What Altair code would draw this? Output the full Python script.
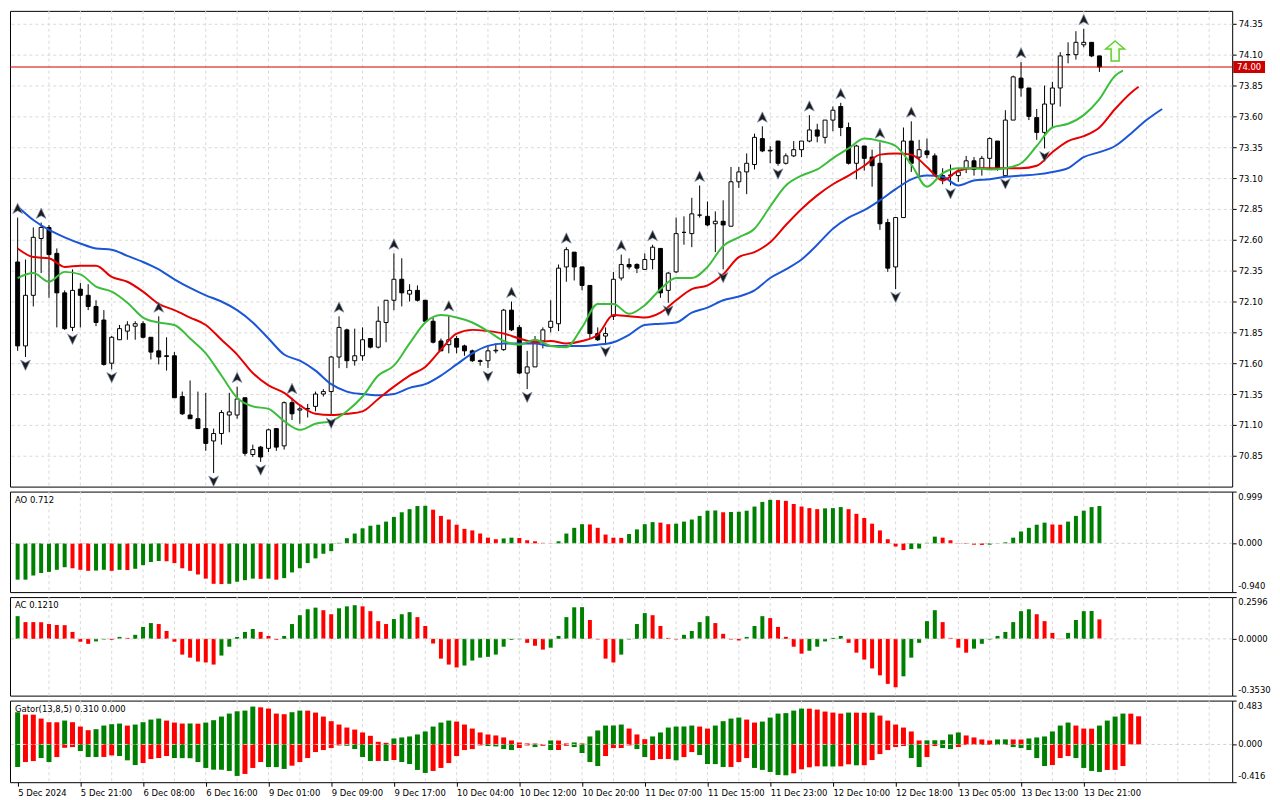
import altair as alt
import pandas as pd

W = 1228
XDOM = [-0.34, 154.3]
FONT = "DejaVu Sans"
FS = 8.5
GREEN = "#008000"
RED = "#ff0000"
GRID = "#d9d9d9"

# ---------------- price data (bar index k = 0..138) ----------------
opens = [72.42, 71.74, 72.15, 72.61, 72.70, 72.49, 72.17, 71.89, 72.20, 72.15,
         72.06, 71.95, 71.60, 71.79, 71.86, 71.90, 71.92, 71.81, 71.70, 71.66,
         71.66, 71.33, 71.18, 71.15, 71.07, 70.97, 71.03, 71.18, 71.18, 71.32,
         70.86, 70.92, 70.91, 71.07, 70.93, 71.28, 71.22, 71.23, 71.25, 71.35,
         71.37, 71.65, 71.87, 71.62, 71.66, 71.80, 71.73, 71.93, 72.11, 72.28,
         72.16, 72.19, 72.11, 71.94, 71.78, 71.75, 71.80, 71.74, 71.70, 71.62,
         71.62, 71.70, 71.71, 72.03, 71.89, 71.52, 71.57, 71.78, 71.89, 71.92,
         72.38, 72.50, 72.38, 72.23, 71.84, 71.82, 71.98, 72.29, 72.40, 72.40,
         72.36, 72.44, 72.53, 72.19, 72.34, 72.66, 72.65, 72.80, 72.79, 72.73,
         72.75, 72.71, 73.07, 73.15, 73.21, 73.42, 73.32, 73.40, 73.22, 73.28,
         73.33, 73.40, 73.49, 73.43, 73.57, 73.68, 73.51, 73.22, 73.36, 73.27,
         73.22, 72.74, 72.38, 72.78, 73.40, 73.27, 73.32, 73.28, 73.12, 73.12,
         73.12, 73.18, 73.24, 73.18, 73.26, 73.40, 73.12, 73.57, 73.91, 73.83,
         73.59, 73.47, 73.70, 73.83, 74.10, 74.10, 74.18, 74.20, 74.09]
highs = [72.78, 72.44, 72.70, 72.74, 72.72, 72.53, 72.19, 72.36, 72.25, 72.24,
         72.11, 72.03, 71.82, 71.91, 71.94, 71.94, 71.94, 71.81, 71.98, 71.81,
         71.69, 71.37, 71.46, 71.37, 71.36, 71.07, 71.22, 71.36, 71.41, 71.32,
         70.94, 70.93, 71.07, 71.07, 71.29, 71.32, 71.25, 71.27, 71.37, 71.39,
         71.66, 71.98, 71.88, 71.88, 71.89, 71.80, 72.06, 72.11, 72.49, 72.45,
         72.24, 72.23, 72.11, 71.97, 71.80, 71.99, 71.82, 71.75, 71.71, 71.63,
         71.74, 71.76, 72.04, 72.10, 71.91, 71.70, 71.82, 71.89, 72.11, 72.40,
         72.54, 72.50, 72.38, 72.23, 71.89, 71.89, 72.34, 72.48, 72.45, 72.41,
         72.49, 72.56, 72.53, 72.34, 72.78, 72.79, 72.94, 73.04, 72.91, 72.83,
         72.92, 73.19, 73.19, 73.30, 73.46, 73.52, 73.36, 73.40, 73.30, 73.40,
         73.40, 73.61, 73.54, 73.57, 73.68, 73.71, 73.55, 73.37, 73.36, 73.33,
         73.39, 72.77, 72.78, 73.51, 73.56, 73.41, 73.42, 73.30, 73.18, 73.21,
         73.18, 73.28, 73.27, 73.28, 73.43, 73.40, 73.65, 73.93, 74.04, 73.83,
         73.66, 73.85, 73.88, 74.12, 74.20, 74.29, 74.31, 74.20, 74.09]
lows = [71.70, 71.65, 72.06, 72.33, 72.13, 71.89, 71.87, 71.86, 71.89, 72.03,
        71.90, 71.58, 71.55, 71.79, 71.79, 71.79, 71.80, 71.63, 71.59, 71.54,
        71.32, 71.18, 71.15, 71.07, 70.89, 70.71, 70.94, 71.04, 71.15, 70.85,
        70.84, 70.80, 70.88, 70.89, 70.90, 71.14, 71.11, 71.16, 71.21, 71.33,
        71.18, 71.56, 71.56, 71.58, 71.62, 71.72, 71.72, 71.77, 72.03, 72.06,
        72.10, 72.10, 71.94, 71.76, 71.70, 71.68, 71.68, 71.66, 71.61, 71.58,
        71.56, 71.68, 71.70, 71.86, 71.51, 71.39, 71.57, 71.72, 71.85, 71.86,
        72.26, 72.27, 72.19, 71.80, 71.78, 71.76, 71.95, 72.27, 72.36, 72.33,
        72.36, 72.36, 72.13, 72.09, 72.33, 72.56, 72.54, 72.78, 72.71, 72.50,
        72.36, 72.71, 73.02, 72.97, 73.17, 73.31, 73.22, 73.20, 73.21, 73.27,
        73.27, 73.39, 73.39, 73.38, 73.48, 73.44, 73.21, 73.09, 73.16, 73.03,
        72.68, 72.34, 72.20, 72.78, 73.15, 73.12, 73.26, 73.12, 73.05, 73.04,
        73.07, 73.14, 73.12, 73.12, 73.18, 73.16, 73.12, 73.57, 73.76, 73.57,
        73.41, 73.34, 73.51, 73.68, 74.03, 74.06, 74.16, 74.08, 73.96]
closes = [71.74, 72.15, 72.62, 72.70, 72.48, 72.17, 71.88, 72.19, 72.15, 72.06,
          71.93, 71.59, 71.81, 71.88, 71.91, 71.92, 71.81, 71.69, 71.65, 71.655,
          71.32, 71.19, 71.15, 71.07, 70.95, 71.03, 71.20, 71.205, 71.31, 70.87,
          70.90, 70.84, 71.06, 70.92, 71.28, 71.19, 71.23, 71.232, 71.35, 71.37,
          71.65, 71.89, 71.62, 71.66, 71.79, 71.73, 71.94, 72.11, 72.28, 72.17,
          72.19, 72.11, 71.94, 71.77, 71.70, 71.79, 71.73, 71.70, 71.62, 71.615,
          71.70, 71.705, 72.03, 71.87, 71.52, 71.57, 71.78, 71.87, 71.94, 72.37,
          72.52, 72.38, 72.23, 71.84, 71.79, 71.84, 72.28, 72.40, 72.38, 72.37,
          72.44, 72.54, 72.17, 72.33, 72.65, 72.66, 72.81, 72.80, 72.72, 72.75,
          72.72, 73.07, 73.15, 73.22, 73.43, 73.32, 73.325, 73.22, 73.28, 73.33,
          73.40, 73.49, 73.44, 73.57, 73.65, 73.51, 73.22, 73.36, 73.26, 73.20,
          72.73, 72.37, 72.78, 73.40, 73.22, 73.33, 73.29, 73.13, 73.09, 73.125,
          73.15, 73.24, 73.17, 73.26, 73.42, 73.18, 73.57, 73.92, 73.83, 73.60,
          73.47, 73.70, 73.83, 74.09, 74.10, 74.20, 74.20, 74.09, 74.00]

up_fractals = [0, 3, 18, 28, 35, 41, 48, 55, 63, 70, 77, 81, 87, 95, 101, 105, 110, 114, 128, 136]
down_fractals = [1, 7, 12, 25, 31, 40, 60, 65, 75, 83, 90, 97, 112, 119, 126, 131]

# Alligator: jaw sampled at k = 0,2,..,146 ; teeth at 0,2,..,142,143 ; lips at 0,2,..,140,141
jaw = [72.87, 72.76, 72.68, 72.62, 72.57, 72.53, 72.52, 72.47, 72.42, 72.36,
       72.28, 72.21, 72.15, 72.10, 72.03, 71.93, 71.80, 71.67, 71.62, 71.54,
       71.43, 71.37, 71.35, 71.34, 71.35, 71.40, 71.43, 71.50, 71.59, 71.68,
       71.74, 71.76, 71.76, 71.76, 71.74, 71.74, 71.74, 71.75, 71.77, 71.83,
       71.91, 71.92, 71.93, 72.01, 72.05, 72.11, 72.14, 72.19, 72.29, 72.36,
       72.44, 72.56, 72.69, 72.78, 72.84, 72.92, 73.01, 73.09, 73.12, 73.11,
       73.04, 73.08, 73.09, 73.11, 73.12, 73.13, 73.15, 73.18, 73.27, 73.31,
       73.36, 73.46, 73.57, 73.66]
teeth = [72.53, 72.46, 72.45, 72.38, 72.39, 72.39, 72.30, 72.26, 72.18, 72.08,
         72.03, 71.97, 71.91, 71.79, 71.67, 71.52, 71.42, 71.36, 71.26, 71.19,
         71.18, 71.19, 71.21, 71.31, 71.41, 71.50, 71.57, 71.71, 71.84, 71.87,
         71.86, 71.84, 71.80, 71.77, 71.78, 71.76, 71.78, 71.83, 71.99, 71.98,
         71.97, 72.01, 72.11, 72.20, 72.23, 72.32, 72.46, 72.50, 72.58, 72.72,
         72.85, 72.96, 73.05, 73.12, 73.20, 73.29, 73.30, 73.29, 73.19, 73.08,
         73.16, 73.18, 73.18, 73.18, 73.18, 73.20, 73.31, 73.40, 73.44, 73.51,
         73.66, 73.79, 73.84]
lips = [72.29, 72.33, 72.26, 72.34, 72.32, 72.22, 72.18, 72.09, 71.97, 71.93,
        71.91, 71.80, 71.68, 71.50, 71.32, 71.25, 71.23, 71.13, 71.06, 71.11,
        71.13, 71.21, 71.33, 71.50, 71.58, 71.76, 71.93, 71.99, 71.97, 71.93,
        71.86, 71.78, 71.75, 71.79, 71.74, 71.73, 71.89, 72.08, 72.08, 72.00,
        72.07, 72.20, 72.29, 72.29, 72.38, 72.55, 72.62, 72.69, 72.87, 73.04,
        73.12, 73.17, 73.26, 73.34, 73.42, 73.40, 73.36, 73.21, 73.03, 73.14,
        73.18, 73.18, 73.17, 73.18, 73.22, 73.36, 73.51, 73.54, 73.61, 73.74,
        73.93, 73.97]

# ---------------- oscillators ----------------
ao = [-0.70, -0.70, -0.62, -0.57, -0.55, -0.51, -0.46, -0.48, -0.51, -0.53,
      -0.525, -0.51, -0.53, -0.51, -0.515, -0.49, -0.42, -0.36, -0.34, -0.345,
      -0.38, -0.48, -0.53, -0.60, -0.68, -0.78, -0.785, -0.78, -0.74, -0.71,
      -0.68, -0.685, -0.68, -0.70, -0.67, -0.56, -0.48, -0.38, -0.29, -0.20,
      -0.15, 0.01, 0.10, 0.19, 0.29, 0.34, 0.36, 0.42, 0.51, 0.60,
      0.66, 0.72, 0.725, 0.65, 0.53, 0.46, 0.36, 0.28, 0.25, 0.19,
      0.11, 0.08, 0.095, 0.11, 0.105, 0.06, 0.04, 0.01, -0.005, 0.04,
      0.19, 0.30, 0.37, 0.365, 0.30, 0.17, 0.11, 0.105, 0.18, 0.27,
      0.37, 0.41, 0.40, 0.37, 0.38, 0.42, 0.46, 0.53, 0.63, 0.635,
      0.60, 0.605, 0.61, 0.63, 0.71, 0.80, 0.84, 0.835, 0.82, 0.76,
      0.71, 0.68, 0.66, 0.675, 0.68, 0.70, 0.66, 0.57, 0.49, 0.38,
      0.25, 0.08, -0.06, -0.13, -0.11, -0.10, 0.01, 0.13, 0.11, 0.06,
      0.005, -0.01, -0.025, -0.03, -0.025, -0.006, 0.02, 0.11, 0.23, 0.30,
      0.36, 0.40, 0.365, 0.36, 0.42, 0.53, 0.63, 0.70, 0.72]
ao_col = ("GGGGGGGRRRGGRGRGGGGRRRRRRRRGGGGRGR"
          "GGGGGGGGGGGGGGGGGGGRRRRRRRRRGGRRRRRGGGGRRRRRGGGGRRGGGGGGRGGGGGG"
          "RRRRRRGGGRRRRRRRRGGGGRRRRRRGGGGGGGGRRGGGGG")

ac = [0.141, 0.104, 0.104, 0.103, 0.092, 0.086, 0.085, 0.043, -0.018, -0.031,
      -0.016, -0.004, -0.006, 0.012, 0.006, 0.025, 0.074, 0.098, 0.092, 0.049,
      -0.018, -0.098, -0.117, -0.141, -0.147, -0.160, -0.104, -0.049, 0.012, 0.043,
      0.061, 0.043, 0.018, -0.006, 0.018, 0.092, 0.147, 0.184, 0.194, 0.178,
      0.153, 0.190, 0.202, 0.209, 0.202, 0.172, 0.110, 0.092, 0.123, 0.153,
      0.166, 0.135, 0.080, -0.029, -0.123, -0.160, -0.178, -0.166, -0.135, -0.117,
      -0.112, -0.098, -0.049, -0.006, -0.002, -0.025, -0.043, -0.067, -0.055, 0.018,
      0.135, 0.196, 0.197, 0.117, -0.004, -0.123, -0.147, -0.098, -0.004, 0.092,
      0.160, 0.147, 0.080, 0.006, -0.004, 0.025, 0.049, 0.104, 0.141, 0.098,
      0.031, -0.004, -0.010, 0.012, 0.080, 0.141, 0.129, 0.074, 0.012, -0.049,
      -0.092, -0.074, -0.049, -0.016, 0.006, 0.018, -0.025, -0.086, -0.129, -0.184,
      -0.227, -0.280, -0.301, -0.233, -0.117, -0.025, 0.110, 0.178, 0.104, 0.006,
      -0.055, -0.086, -0.061, -0.031, -0.004, 0.018, 0.043, 0.104, 0.172, 0.184,
      0.153, 0.110, 0.037, -0.002, 0.037, 0.117, 0.172, 0.173, 0.121]
ac_col = ("GRRRRRRRRRGGRGRGGGRRRRRRRRGGGGGRRRGGGGGRRGGGRRRRGGGRRRRRR"
          "GGGGGGGGRRRGGGGGRRRRGGGGRRRRGGGGRRRRGGGRRRRRGGGGGRRRRRRRGGGGGRRRR"
          "GGGGGGGGRRRRGGGGR")

gator_up = [0.355, 0.329, 0.328, 0.285, 0.245, 0.244, 0.263, 0.245, 0.197, 0.157,
            0.168, 0.208, 0.223, 0.230, 0.208, 0.219, 0.245, 0.274, 0.285, 0.263,
            0.241, 0.230, 0.231, 0.229, 0.241, 0.267, 0.307, 0.340, 0.365, 0.373,
            0.417, 0.409, 0.395, 0.340, 0.333, 0.355, 0.373, 0.372, 0.351, 0.307,
            0.256, 0.219, 0.186, 0.164, 0.132, 0.095, 0.029, 0.018, 0.066, 0.077,
            0.088, 0.110, 0.143, 0.197, 0.241, 0.263, 0.252, 0.219, 0.175, 0.132,
            0.110, 0.099, 0.077, 0.044, 0.022, 0.011, 0.010, 0.003, 0.044, 0.043,
            0.011, 0.022, 0.011, 0.088, 0.154, 0.208, 0.209, 0.219, 0.175, 0.110,
            0.058, 0.088, 0.132, 0.186, 0.197, 0.198, 0.208, 0.197, 0.175, 0.208,
            0.256, 0.285, 0.296, 0.274, 0.241, 0.252, 0.296, 0.340, 0.345, 0.373,
            0.395, 0.394, 0.384, 0.362, 0.351, 0.340, 0.351, 0.350, 0.349, 0.351,
            0.318, 0.263, 0.219, 0.186, 0.143, 0.044, 0.045, 0.046, 0.047, 0.110,
            0.132, 0.099, 0.077, 0.055, 0.044, 0.055, 0.056, 0.055, 0.054, 0.066,
            0.077, 0.088, 0.143, 0.208, 0.241, 0.208, 0.175, 0.174, 0.208, 0.263,
            0.307, 0.340, 0.339, 0.310]
gator_up_col = ("GRRRRRGRRR" "GGGGRGGGGR" "RRGRGGGGGG" "GRRRRGGRRR" "RRRRRRRRGG"
                "GGGGGGRRRR" "RRRRRRRRGR" "RGRGGGGGRR" "RGGGGGGRRG" "GGGRRGGGGG"
                "GRRRRRGRRG" "RRRRRRGGGG" "GRRRRGGRRG" "GGGGGRRRGG" "GGRR")

gator_dn = [-0.249, -0.194, -0.183, -0.150, -0.194, -0.139, -0.037, -0.029, -0.073, -0.139,
            -0.139, -0.138, -0.121, -0.128, -0.175, -0.227, -0.205, -0.161, -0.150, -0.128,
            -0.150, -0.151, -0.152, -0.194, -0.259, -0.278, -0.279, -0.292, -0.347, -0.325,
            -0.259, -0.194, -0.249, -0.250, -0.270, -0.234, -0.194, -0.150, -0.084, -0.062,
            -0.040, -0.011, -0.015, -0.051, -0.139, -0.183, -0.182, -0.183, -0.172, -0.194,
            -0.216, -0.281, -0.314, -0.292, -0.259, -0.205, -0.128, -0.062, -0.051, -0.011,
            -0.018, -0.022, -0.051, -0.062, -0.040, -0.011, -0.029, -0.015, -0.062, -0.061,
            -0.015, -0.029, -0.095, -0.194, -0.238, -0.128, -0.040, -0.039, -0.011, -0.051,
            -0.139, -0.172, -0.161, -0.160, -0.175, -0.139, -0.084, -0.117, -0.216, -0.217,
            -0.249, -0.248, -0.194, -0.150, -0.259, -0.281, -0.303, -0.336, -0.340, -0.318,
            -0.274, -0.252, -0.241, -0.242, -0.243, -0.241, -0.219, -0.230, -0.229, -0.172,
            -0.106, -0.062, -0.029, -0.018, -0.150, -0.249, -0.139, -0.018, -0.040, -0.051,
            -0.029, -0.007, -0.006, -0.007, -0.006, -0.007, -0.006, -0.029, -0.040, -0.062,
            -0.150, -0.238, -0.227, -0.150, -0.128, -0.150, -0.259, -0.292, -0.303, -0.281,
            -0.280, -0.238]
gator_dn_col = ("GRRGGRRRGG" "GRRGGGRRRR" "GGGGGGGGGR" "RRGGGRRRRR" "RRGGGGRGRG"
                "GGGRRRRRRR" "GGGGRRGRGR" "RGGGGRRRRG" "GRRRGRRGGG" "GRRRGGGGGR"
                "RRRGGRRGRR" "RRRRGGRRGG" "RRRGRGRGGG" "GGRRRGGGGR" "RR")

# ---------------- axes / annotations ----------------
price_ticks = [70.85, 71.10, 71.35, 71.60, 71.85, 72.10, 72.35, 72.60, 72.85,
               73.10, 73.35, 73.60, 73.85, 74.10, 74.35]
x_label_k = [0, 8, 16, 24, 32, 40, 48, 56, 64, 72, 80, 88, 96, 104, 112, 120, 128, 136]
x_labels = ["5 Dec 2024", "5 Dec 21:00", "6 Dec 08:00", "6 Dec 16:00", "9 Dec 01:00",
            "9 Dec 09:00", "9 Dec 17:00", "10 Dec 04:00", "10 Dec 12:00", "10 Dec 20:00",
            "11 Dec 07:00", "11 Dec 15:00", "11 Dec 23:00", "12 Dec 10:00", "12 Dec 18:00",
            "13 Dec 05:00", "13 Dec 13:00", "13 Dec 21:00"]
grid_k = list(range(4, 155, 4))
last_price = 74.00
signal_k = 140
signal_price = 74.13

AO_DOM = [-0.940, 0.999]
AC_DOM = [-0.3530, 0.2596]
GA_DOM = [-0.416, 0.483]
MAIN_DOM = [70.600, 74.455]
H_MAIN, H_AO, H_AC, H_GA = 478, 101, 99, 82

# ---------------- helpers ----------------
xs = alt.Scale(domain=XDOM, nice=False, zero=False)
labels_js = "[" + ",".join("'" + s + "'" for s in x_labels) + "]"
ks_js = "[" + ",".join(str(k) for k in x_label_k) + "]"
xax_bottom = alt.Axis(values=x_label_k, labelExpr=f"{labels_js}[indexof({ks_js}, datum.value)]",
                      labelAlign="left", labelFlush=False, labelOverlap=False, tickSize=4,
                      tickColor="black", domain=False, grid=False, labelFont=FONT,
                      labelFontSize=FS, labelColor="black", labelPadding=2, title=None)


def X(field="k", axis=None):
    return alt.X(f"{field}:Q", scale=xs, axis=axis)


def vgrid(axis=None):
    return alt.Chart(pd.DataFrame({"k": grid_k})).mark_rule(
        color=GRID, strokeDash=[3, 3], strokeWidth=1).encode(x=X(axis=axis))


UP_PATH = "M0,-1L0.9,0.9L0,0.4L-0.9,0.9Z"
DN_PATH = "M0,1L0.9,-0.9L0,-0.4L-0.9,-0.9Z"
BOX_PATH = "M-1,-0.375L1,-0.375L1,0.375L-1,0.375Z"
ARROW_PATH = "M0,-1L0.95,-0.2L0.4,-0.2L0.4,1L-0.4,1L-0.4,-0.2L-0.95,-0.2Z"

# ---------------- main panel ----------------
candles = pd.DataFrame({"k": list(range(len(opens))), "o": opens, "h": highs, "l": lows, "c": closes})
ys_main = alt.Scale(domain=MAIN_DOM, nice=False, zero=False)
yax_main = alt.Axis(orient="right", values=price_ticks, format=".2f", grid=True, gridDash=[3, 3],
                    gridColor=GRID, tickSize=4, tickColor="black", domain=False, labelFont=FONT,
                    labelFontSize=FS, labelColor="black", labelPadding=2, labelOverlap=False,
                    title=None)


def YM(field):
    return alt.Y(f"{field}:Q", scale=ys_main, axis=yax_main)


price_df = pd.DataFrame({"p": [last_price], "t": [f"{last_price:.2f}"]})
price_rule = alt.Chart(price_df).mark_rule(color="#d00000", strokeWidth=1.1).encode(y=YM("p"))

wicks = alt.Chart(candles).mark_rule(color="black", strokeWidth=1).encode(x=X(), y=YM("l"), y2="h:Q")
bodies = alt.Chart(candles).mark_bar(size=4, stroke="black", strokeWidth=1).encode(
    x=X(), y=YM("o"), y2="c:Q",
    fill=alt.condition("datum.c >= datum.o", alt.value("white"), alt.value("black")))


def ma_line(ks, vals, color):
    df = pd.DataFrame({"k": ks, "v": vals})
    return alt.Chart(df).mark_line(color=color, strokeWidth=2, interpolate="monotone",
                                   clip=True).encode(x=X(), y=YM("v"))


jaw_line = ma_line(list(range(0, 147, 2)), jaw, "#1a56d6")
teeth_line = ma_line(list(range(0, 143, 2)) + [143], teeth, "#e60000")
lips_line = ma_line(list(range(0, 141, 2)) + [141], lips, "#3cbe3c")

fr_up = alt.Chart(candles[candles.k.isin(up_fractals)]).mark_point(
    shape=UP_PATH, size=120, filled=True, fill="#1c1c1c", stroke="#8494b4", strokeWidth=0.7,
    opacity=1, yOffset=-9, clip=True).encode(x=X(), y=YM("h"))
fr_dn = alt.Chart(candles[candles.k.isin(down_fractals)]).mark_point(
    shape=DN_PATH, size=120, filled=True, fill="#1c1c1c", stroke="#8494b4", strokeWidth=0.7,
    opacity=1, yOffset=8, clip=True).encode(x=X(), y=YM("l"))

box = alt.Chart(price_df).mark_point(shape=BOX_PATH, size=1024, filled=True, color="#cc0000",
                                     opacity=1).encode(x=alt.value(W + 17), y=YM("p"))
box_txt = alt.Chart(price_df).mark_text(color="white", font=FONT, fontSize=FS, align="center",
                                        baseline="middle").encode(x=alt.value(W + 17), y=YM("p"), text="t:N")

sig = alt.Chart(pd.DataFrame({"k": [signal_k], "p": [signal_price]})).mark_point(
    shape=ARROW_PATH, size=400, filled=True, fill="#f4fff0", stroke="#66cc33", strokeWidth=1.5,
    opacity=1).encode(x=X(), y=YM("p"))

main = alt.layer(vgrid(), wicks, bodies, price_rule, jaw_line, teeth_line, lips_line,
                 fr_up, fr_dn, box, box_txt, sig).properties(width=W, height=H_MAIN)


# ---------------- sub panels ----------------
def sub_panel(vals_list, cols_list, dom, height, label, zero_txt, fmt, bottom=False, bar_size=4):
    xaxis = xax_bottom if bottom else None
    ys = alt.Scale(domain=dom, nice=False, zero=False)
    yax = alt.Axis(orient="right", values=[dom[0], 0, dom[1]], labels=False, grid=False,
                   tickSize=4, tickColor="black", domain=False, title=None)
    layers = [vgrid(xaxis)]
    for vals, cols in zip(vals_list, cols_list):
        df = pd.DataFrame({"k": list(range(len(vals))), "v": vals, "z": [0.0] * len(vals),
                           "col": list(cols)})
        layers.append(alt.Chart(df).mark_bar(size=bar_size).encode(
            x=X(axis=xaxis), y=alt.Y("v:Q", scale=ys, axis=yax), y2="z:Q",
            color=alt.Color("col:N", scale=alt.Scale(domain=["G", "R"], range=[GREEN, RED]),
                            legend=None)))
    zero_df = pd.DataFrame({"z": [0.0]})
    layers.append(alt.Chart(zero_df).mark_rule(color="#d0d0d0", strokeDash=[3, 3], strokeWidth=1)
                  .encode(y=alt.Y("z:Q", scale=ys, axis=yax)))
    layers.append(alt.Chart(pd.DataFrame({"t": [label]})).mark_text(
        align="left", baseline="top", font=FONT, fontSize=FS, color="black").encode(
        x=alt.value(5), y=alt.value(4), text="t:N"))
    lab = pd.DataFrame({"v": [dom[1], 0.0, dom[0]],
                        "t": [format(dom[1], fmt), zero_txt, format(dom[0], fmt)]})
    for i, bl, dy in [(0, "top", 1), (1, "middle", 0), (2, "bottom", -1)]:
        layers.append(alt.Chart(lab.iloc[[i]]).mark_text(
            align="left", baseline=bl, dy=dy, font=FONT, fontSize=FS, color="black").encode(
            x=alt.value(W + 6), y=alt.Y("v:Q", scale=ys, axis=yax), text="t:N"))
    return alt.layer(*layers).properties(width=W, height=height)


ao_panel = sub_panel([ao], [ao_col], AO_DOM, H_AO, "AO 0.712", "0.000", ".3f")
ac_panel = sub_panel([ac], [ac_col], AC_DOM, H_AC, "AC 0.1210", "0.0000", ".4f")
ga_panel = sub_panel([gator_up, gator_dn], [gator_up_col, gator_dn_col], GA_DOM, H_GA,
                     "Gator(13,8,5) 0.310 0.000", "0.000", ".3f", bottom=True, bar_size=5)

chart = alt.vconcat(main, ao_panel, ac_panel, ga_panel, spacing=3).properties(
    padding=0, background="white"
).configure_view(stroke="black", strokeWidth=1)

chart.save("out.html", embed_options={"renderer": "svg", "actions": False})
